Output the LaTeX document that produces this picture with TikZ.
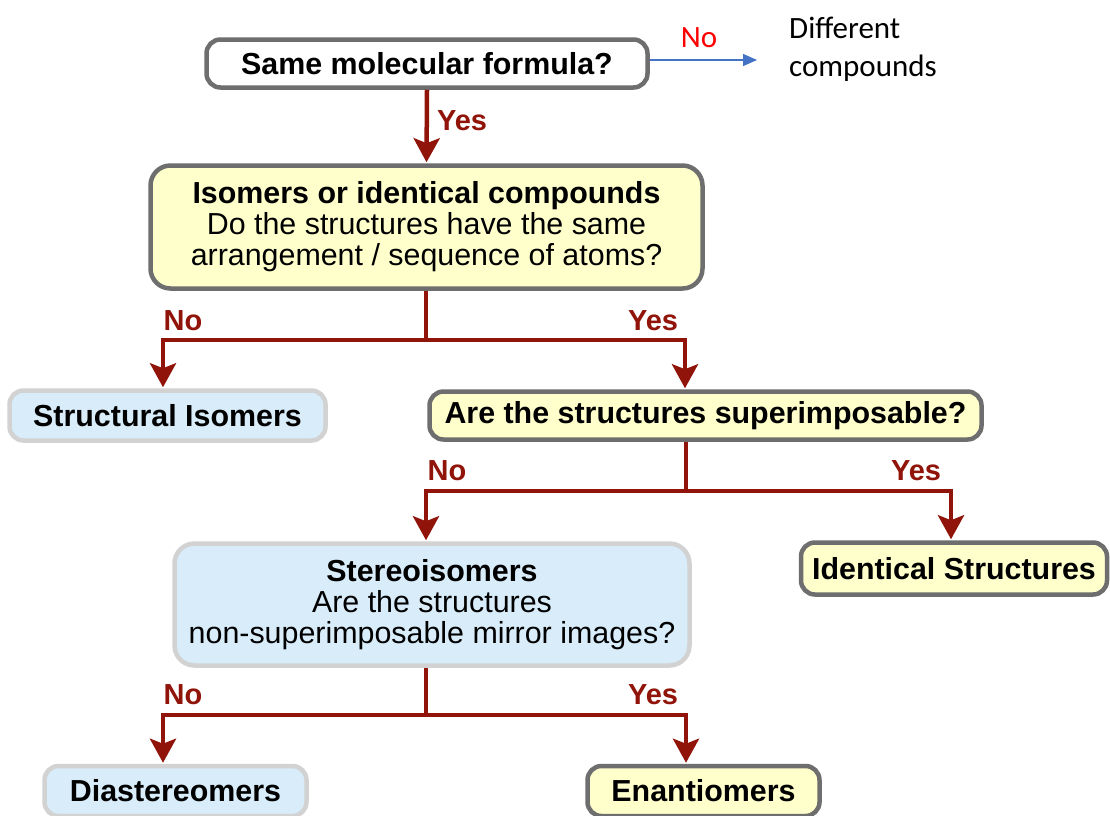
\documentclass[tikz,border=0pt]{standalone}
\usepackage{fontspec}
\setmainfont{Liberation Sans}
\newfontfamily\calfont{Carlito}
\usetikzlibrary{arrows.meta}
\definecolor{arrred}{RGB}{145,20,10}
\definecolor{boxgray}{RGB}{110,110,110}
\definecolor{lightgrayb}{RGB}{210,210,210}
\definecolor{yfill}{RGB}{255,255,204}
\definecolor{bfill}{RGB}{216,236,250}
\definecolor{offblue}{RGB}{68,114,196}
\begin{document}
\begin{tikzpicture}[x=1pt,y=-1pt,
 box/.style={rounded corners=14pt, line width=4.5pt, inner sep=0pt, align=center, font=\fontsize{30.4}{31}\selectfont},
 ybox/.style={box, draw=boxgray, fill=yfill},
 bbox/.style={box, draw=lightgrayb, fill=bfill},
 wbox/.style={box, draw=boxgray, fill=white},
 conn/.style={draw=arrred, line width=4.5pt},
 arr/.style={conn, shorten >=1pt, -{Stealth[width=26pt,length=24pt,inset=5pt]}},
 lbl/.style={text=arrred, font=\bfseries\fontsize{29}{30}\selectfont, inner sep=0pt},
]
\useasboundingbox (0,0) rectangle (1110,815);
\fill[white] (0,0) rectangle (1110,815);

\node[wbox, minimum width=441pt, minimum height=48pt] (b1) at (427,63.5) {\textbf{Same molecular formula?}};
\node[ybox, rounded corners=20pt, minimum width=552pt, minimum height=123pt] (b2) at (426.5,227)
  {\textbf{Isomers or identical compounds}\\Do the structures have the same\\arrangement / sequence of atoms?};
\node[bbox, minimum width=316pt, minimum height=50pt] (si) at (167.5,415.5) {\textbf{Structural Isomers}};
\node[ybox, minimum width=552pt, minimum height=48pt] (sup) at (705.5,415.5) {\textbf{Are the structures superimposable?}};
\node[ybox, minimum width=306pt, minimum height=52pt] (id) at (954,568.5) {\textbf{Identical Structures}};
\node[bbox, rounded corners=20pt, minimum width=515pt, minimum height=122pt] (st) at (432,604.5)
  {\textbf{Stereoisomers}\\Are the structures\\non-superimposable mirror images?};
\node[bbox, minimum width=262pt, minimum height=50pt] (di) at (175.5,791) {\textbf{Diastereomers}};
\node[ybox, minimum width=232pt, minimum height=50pt] (en) at (703.5,791) {\textbf{Enantiomers}};

\node[anchor=west, align=left, inner sep=0pt, font=\calfont\fontsize{31}{38}\selectfont] (dc) at (789,49) {Different\\compounds};
\node[text=red, inner sep=0pt, font=\calfont\fontsize{31}{37}\selectfont] (no0) at (699,38) {No};
\draw[offblue, line width=1.3pt, shorten >=32pt, -{Triangle[width=12pt,length=14pt]}] (b1.east |- 0,60) -- (dc.west |- 0,60);

\coordinate (j1) at (426,340);
\coordinate (j2) at (686,491);
\coordinate (j3) at (426,715);

\draw[arr] (b1.south) -- (b2.north);
\draw[conn] (b2.south -| j1) -- (j1);
\draw[arr] (j1) -| ([xshift=-4.5pt]si.north);
\draw[arr] (j1) -| ([xshift=-20.5pt]sup.north);
\draw[conn] (sup.south -| j2) -- (j2);
\draw[arr] (j2) -| ([xshift=-6pt]st.north);
\draw[arr] (j2) -| ([xshift=-3pt]id.north);
\draw[conn] (st.south -| j3) -- (j3);
\draw[arr] (j3) -| ([xshift=-12.5pt]di.north);
\draw[arr] (j3) -| ([xshift=-17.5pt]en.north);

\node[lbl] (l1) at (462,121) {Yes};
\node[lbl] (l2) at (183,321) {No};
\node[lbl] (l3) at (653,321) {Yes};
\node[lbl] (l4) at (447,471) {No};
\node[lbl] (l5) at (916,471) {Yes};
\node[lbl] (l6) at (183,695) {No};
\node[lbl] (l7) at (653,695) {Yes};
\end{tikzpicture}
\end{document}
